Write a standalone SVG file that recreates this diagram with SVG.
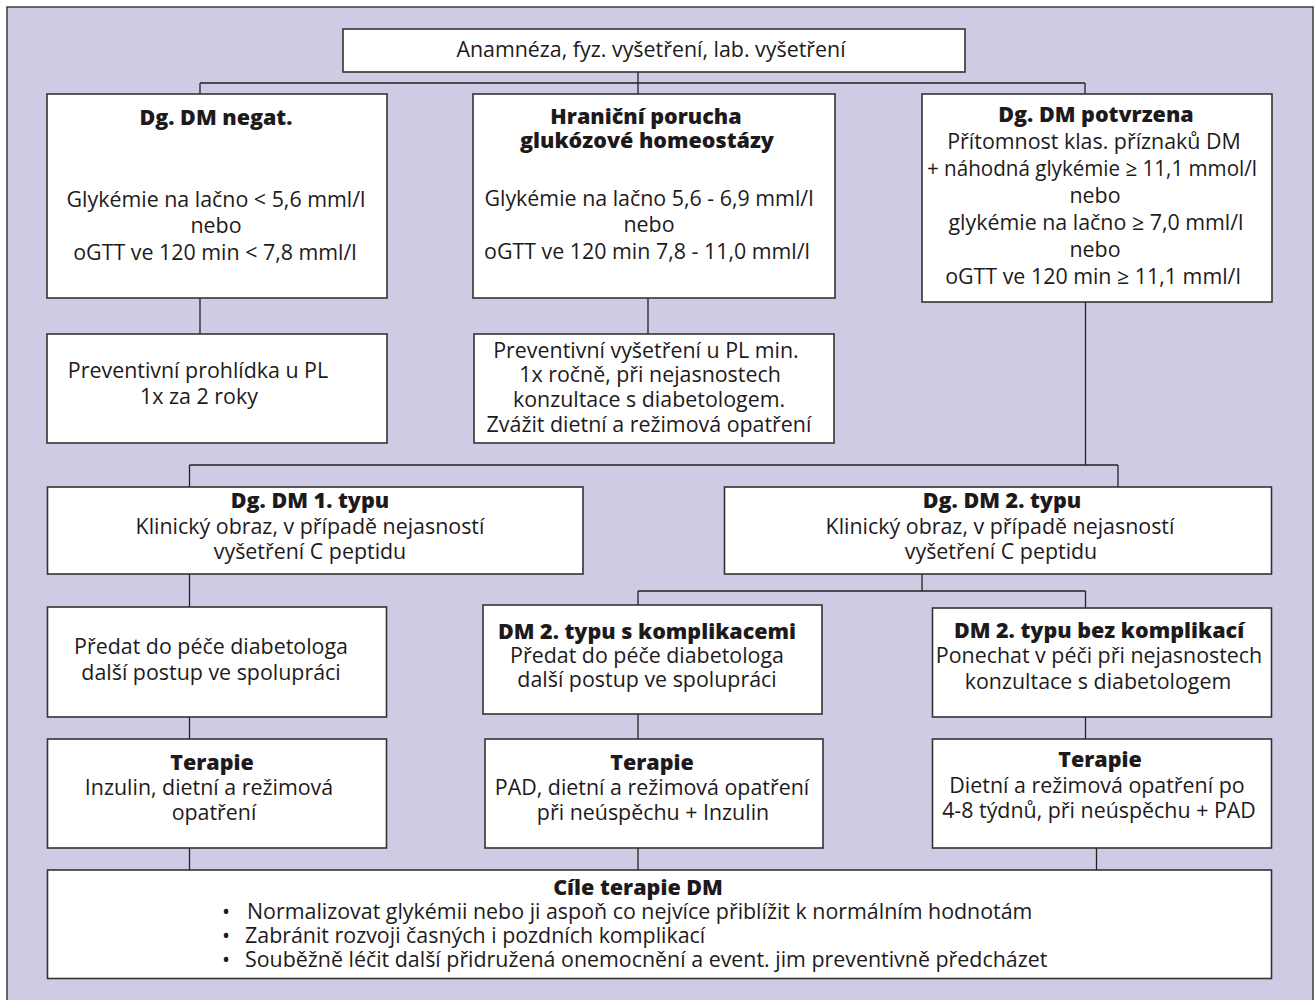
<svg xmlns="http://www.w3.org/2000/svg" width="1316" height="1000" viewBox="0 0 1316 1000">
<style>
.bg{fill:#d0cbe4;stroke:#3c3c3c;stroke-width:1.5}
.box{fill:#ffffff;stroke:#333333;stroke-width:1.6}
.c{fill:none;stroke:#222222;stroke-width:1.3}
text{font-family:"Open Sans","Noto Sans","Liberation Sans",sans-serif;font-size:21.4px;fill:#1e1a1b;text-anchor:middle}
.b{font-weight:800;font-size:21.5px}
.l{text-anchor:start}
</style>
<rect x="0" y="0" width="1316" height="1000" fill="#ffffff"/>
<rect class="bg" x="7" y="7" width="1306" height="1010"/>
<g id="connectors">
<path class="c" d="M638,72V83M200,83H1085M200,83V94M638,83V94M1085,83V94"/>
<path class="c" d="M200,298V334M648,298V334"/>
<path class="c" d="M1085.5,302V465M189.5,465H1118M189.5,465V487M1118,465V487"/>
<path class="c" d="M922,574V591M638,591H1085.5M638,591V605M1085.5,591V608"/>
<path class="c" d="M189.5,574V607"/>
<path class="c" d="M189.5,717V739M638,714V739M1085.5,717V739"/>
<path class="c" d="M189.5,848V870M638,848V870M1096.5,848V870"/>
</g>
<g id="n0"><rect class="box" x="343" y="29" width="622" height="43"/>
<text x="651" y="57">Anamnéza, fyz. vyšetření, lab. vyšetření</text></g>
<g id="n1"><rect class="box" x="47" y="94" width="340" height="204"/>
<text class="b" x="216" y="125">Dg. DM negat.</text>
<text x="216" y="207">Glykémie na lačno &lt; 5,6 mml/l</text>
<text x="216" y="233">nebo</text>
<text x="215" y="260">oGTT ve 120 min &lt; 7,8 mml/l</text></g>
<g id="n2"><rect class="box" x="473" y="94" width="362" height="204"/>
<text class="b" x="646" y="124">Hraniční porucha</text>
<text class="b" x="647" y="148">glukózové homeostázy</text>
<text x="649" y="206">Glykémie na lačno 5,6 - 6,9 mml/l</text>
<text x="649" y="232">nebo</text>
<text x="647" y="259">oGTT ve 120 min 7,8 - 11,0 mml/l</text></g>
<g id="n3"><rect class="box" x="922" y="94" width="350" height="208"/>
<text class="b" x="1096" y="122">Dg. DM potvrzena</text>
<text x="1094" y="149">Přítomnost klas. příznaků DM</text>
<text x="1092" y="176" textLength="330" lengthAdjust="spacingAndGlyphs">+ náhodná glykémie ≥ 11,1 mmol/l</text>
<text x="1095" y="203">nebo</text>
<text x="1096" y="230">glykémie na lačno ≥ 7,0 mml/l</text>
<text x="1095" y="257">nebo</text>
<text x="1093" y="284">oGTT ve 120 min ≥ 11,1 mml/l</text></g>
<g id="n4"><rect class="box" x="47" y="334" width="340" height="109"/>
<text x="198" y="378">Preventivní prohlídka u PL</text>
<text x="199" y="404">1x za 2 roky</text></g>
<g id="n5"><rect class="box" x="474" y="334" width="360" height="109"/>
<text x="646" y="358">Preventivní vyšetření u PL min.</text>
<text x="650" y="382">1x ročně, při nejasnostech</text>
<text x="649" y="407">konzultace s diabetologem.</text>
<text x="649" y="432">Zvážit dietní a režimová opatření</text></g>
<g id="n6"><rect class="box" x="47.5" y="487" width="535.5" height="87"/>
<text class="b" x="310" y="508">Dg. DM 1. typu</text>
<text x="310" y="534">Klinický obraz, v případě nejasností</text>
<text x="310" y="559">vyšetření C peptidu</text></g>
<g id="n7"><rect class="box" x="724.5" y="487" width="547" height="87"/>
<text class="b" x="1002" y="508">Dg. DM 2. typu</text>
<text x="1000" y="534">Klinický obraz, v případě nejasností</text>
<text x="1001" y="559">vyšetření C peptidu</text></g>
<g id="n8"><rect class="box" x="47.5" y="607" width="339" height="110"/>
<text x="211" y="654">Předat do péče diabetologa</text>
<text x="211" y="680">další postup ve spolupráci</text></g>
<g id="n9"><rect class="box" x="483" y="605" width="339" height="109"/>
<text class="b" x="647" y="639">DM 2. typu s komplikacemi</text>
<text x="647" y="663">Předat do péče diabetologa</text>
<text x="647" y="687">další postup ve spolupráci</text></g>
<g id="n10"><rect class="box" x="932.5" y="608" width="339" height="109"/>
<text class="b" x="1099" y="638">DM 2. typu bez komplikací</text>
<text x="1099" y="663">Ponechat v péči při nejasnostech</text>
<text x="1098" y="689">konzultace s diabetologem</text></g>
<g id="n11"><rect class="box" x="47.5" y="739" width="339" height="109"/>
<text class="b" x="212" y="770">Terapie</text>
<text x="209" y="795">Inzulin, dietní a režimová</text>
<text x="214" y="820">opatření</text></g>
<g id="n12"><rect class="box" x="485" y="739" width="338" height="109"/>
<text class="b" x="652" y="770">Terapie</text>
<text x="652" y="795">PAD, dietní a režimová opatření</text>
<text x="653" y="820">při neúspěchu + Inzulin</text></g>
<g id="n13"><rect class="box" x="932.5" y="739" width="339" height="109"/>
<text class="b" x="1100" y="767">Terapie</text>
<text x="1097" y="793">Dietní a režimová opatření po</text>
<text x="1099" y="818">4-8 týdnů, při neúspěchu + PAD</text></g>
<g id="n14"><rect class="box" x="47.5" y="870" width="1224" height="108.5"/>
<text class="b" x="638" y="895">Cíle terapie DM</text>
<text class="l" y="919"><tspan x="222">•</tspan><tspan x="247">Normalizovat glykémii nebo ji aspoň co nejvíce přiblížit k normálním hodnotám</tspan></text>
<text class="l" y="943"><tspan x="222">•</tspan><tspan x="245">Zabránit rozvoji časných i pozdních komplikací</tspan></text>
<text class="l" y="967"><tspan x="222">•</tspan><tspan x="245">Souběžně léčit další přidružená onemocnění a event. jim preventivně předcházet</tspan></text></g>
</svg>
